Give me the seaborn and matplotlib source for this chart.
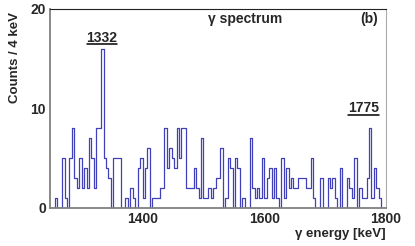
import numpy as np
import pandas as pd
import matplotlib
matplotlib.use('Agg')
import matplotlib.pyplot as plt
import seaborn as sns
from matplotlib.ticker import MultipleLocator

# -------------------------------------------------------
# Data: gamma spectrum, 4 keV bins starting at 1248 keV
# -------------------------------------------------------
bin_width = 4
e_start = 1248
e_stop = 1800
counts = [0, 0, 1, 0, 0, 5, 1, 0, 5, 8,
          3, 2, 5, 2, 4, 2, 7, 5, 2, 8,
          8, 16, 5, 4, 3, 0, 5, 5, 5, 0,
          0, 1, 0, 2, 1, 0, 4, 5, 1, 4,
          6, 0, 1, 1, 1, 2, 2, 8, 4, 6,
          5, 4, 8, 5, 8, 8, 2, 2, 2, 4,
          2, 1, 7, 1, 1, 2, 1, 2, 3, 3,
          6, 0, 1, 5, 4, 0, 5, 4, 0, 1,
          0, 0, 7, 2, 1, 2, 1, 5, 1, 3,
          4, 1, 4, 1, 0, 5, 1, 4, 2, 3,
          2, 2, 3, 3, 3, 2, 2, 5, 1, 0,
          0, 3, 0, 0, 3, 2, 3, 1, 0, 4,
          0, 0, 3, 2, 1, 5, 0, 2, 1, 1,
          3, 8, 1, 4, 2, 1, 0, 0]

peak_labels = ['1332', '1775']
peak_label_x = [1333, 1763]
peak_label_y = [17.1, 10.0]

centers = e_start + bin_width * np.arange(len(counts)) + bin_width / 2
df = pd.DataFrame({'energy': centers, 'counts': counts})

# -------------------------------------------------------
# Plot
# -------------------------------------------------------
sns.set_style("white")
plt.rcParams['font.family'] = ['Liberation Sans', 'DejaVu Sans']
plt.rcParams['font.weight'] = 'bold'

fig = plt.figure(figsize=(4.15, 2.46), dpi=100)
ax = fig.add_axes([0.1205, 0.1545, 0.8096, 0.809])

sns.histplot(data=df, x='energy', weights='counts', binwidth=bin_width,
             binrange=(e_start, e_stop), element='step', fill=False,
             color='#4040bb', linewidth=0.9, ax=ax)

ax.set_xlim(e_start, e_stop)
ax.set_ylim(0, 20)

ax.xaxis.set_major_locator(MultipleLocator(200))
ax.xaxis.set_minor_locator(MultipleLocator(50))
ax.yaxis.set_major_locator(MultipleLocator(10))
ax.yaxis.set_minor_locator(MultipleLocator(2))
ax.tick_params(which='both', direction='in', labelsize=10, pad=3)
ax.tick_params(which='major', length=6, width=0.8)
ax.tick_params(which='minor', length=3.5, width=0.8)
for lab in ax.get_xticklabels() + ax.get_yticklabels():
    lab.set_fontweight('bold')

for side in ['left', 'bottom']:
    ax.spines[side].set_color('#808080')
    ax.spines[side].set_linewidth(1.3)
ax.spines['top'].set_color('#222222')
ax.spines['top'].set_linewidth(0.8)
ax.spines['right'].set_color('#aaaaaa')
ax.spines['right'].set_linewidth(0.8)

ax.set_xlabel('γ energy [keV]', fontsize=9.5, fontweight='bold')
ax.xaxis.set_label_coords(1.0, -0.1)
ax.xaxis.label.set_horizontalalignment('right')
ax.set_ylabel('Counts / 4 keV', fontsize=9.5, fontweight='bold')
ax.yaxis.set_label_coords(-0.085, 0.985)
ax.yaxis.label.set_horizontalalignment('right')

ax.text(0.58, 0.952, 'γ spectrum', transform=ax.transAxes, ha='center', va='center',
        fontsize=10, fontweight='bold')
ax.text(0.951, 0.952, '(b)', transform=ax.transAxes, ha='center', va='center',
        fontsize=10, fontweight='bold')

# peak annotations with underline
for lab, e, y in zip(peak_labels, peak_label_x, peak_label_y):
    ax.text(e, y, lab, ha='center', va='center', fontsize=10, fontweight='bold')
    ax.plot([e - 25, e + 25], [y - 0.65, y - 0.65], color='black', lw=1.1)

plt.savefig('out.png', dpi=100)
plt.close()
print("Saved: out.png")
